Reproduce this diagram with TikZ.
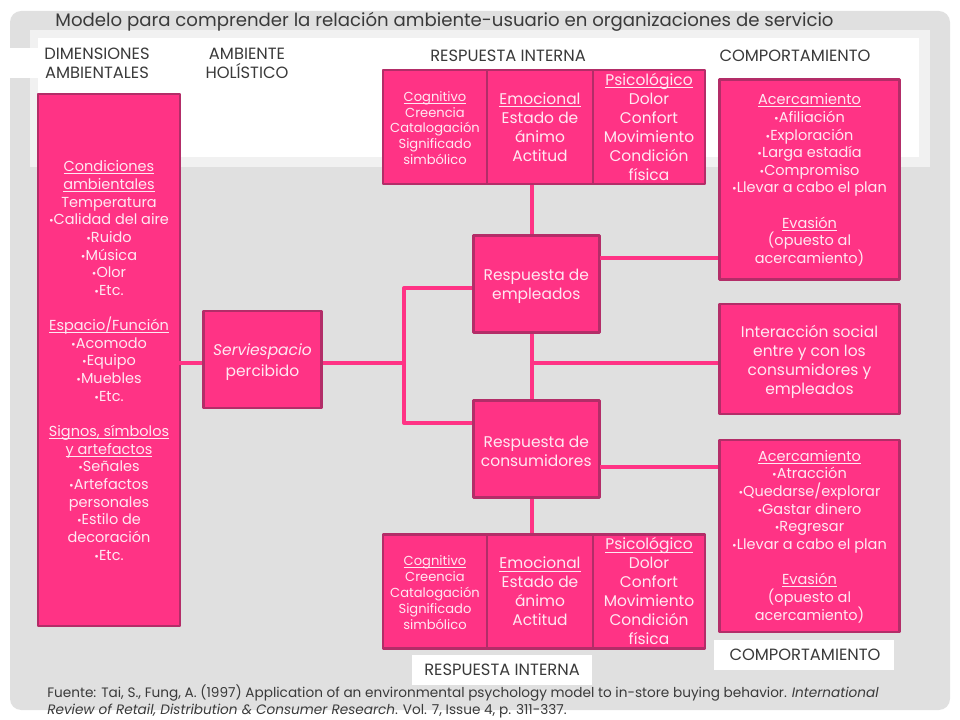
\documentclass[tikz,border=0pt]{standalone}
\usepackage{fontspec}
\setmainfont{Poppins}
\usepackage{tikz}

\definecolor{panelgray}{HTML}{E0E0E0}
\definecolor{bandgray}{HTML}{F1F1F1}
\definecolor{boxpink}{HTML}{FF3385}
\definecolor{boxedge}{HTML}{B32D68}
\definecolor{boxtext}{HTML}{FFE8F2}
\definecolor{inkgray}{HTML}{3A3A3A}

\newcommand{\bul}{{\footnotesize\textbullet}}
\newcommand{\under}[1]{\rule{0pt}{8.5pt}\underline{\smash{#1}}}
\normallineskiplimit=-6pt
\lineskiplimit=-6pt

\tikzset{
	pinkbox/.style={draw=boxedge, fill=boxpink, line width=1.9pt, line join=round, text=boxtext, align=center, inner sep=0pt},
	textsmall/.style={font=\fontsize{9.3pt}{11.3pt}\selectfont},
	textmid/.style={font=\fontsize{10.3pt}{12.55pt}\selectfont},
	textbig/.style={font=\fontsize{11pt}{13.5pt}\selectfont},
	header/.style={text=inkgray, align=center, inner sep=0pt, font=\fontsize{11.6pt}{13.5pt}\selectfont},
	link/.style={draw=boxpink, line width=2.4pt, line join=round},
}

\begin{document}
\begin{tikzpicture}[x=0.025cm, y=-0.025cm]

		\useasboundingbox (0, 0) rectangle (960, 720);
		
		% slide background
		\fill[white] (0, 0) rectangle (960, 720);
		\fill[panelgray, rounded corners=8pt] (10, 11) rectangle (950, 710);
		\fill[bandgray] (30, 30) rectangle (930, 167);
		\fill[white] (38, 38) rectangle (919, 157);
		\fill[white] (10, 48) rectangle (38, 78);
		\fill[white] (412, 655) rectangle (592, 685);
		\fill[white] (714, 640) rectangle (894, 670);
		
		% titles
		\node[text=inkgray, inner sep=0pt, font=\fontsize{12.9pt}{15pt}\selectfont] (title) at (444.5, 22) {Modelo para comprender la relación ambiente-usuario en organizaciones de servicio};
		\node[header] (dim) at (97, 63.5) {DIMENSIONES\\AMBIENTALES};
		\node[header] (hol) at (247, 63.5) {AMBIENTE\\HOLÍSTICO};
		\node[header] (intTop) at (508, 56) {RESPUESTA INTERNA};
		\node[header] (behTop) at (795, 56) {COMPORTAMIENTO};
		\node[header] (intBot) at (502, 670) {RESPUESTA INTERNA};
		\node[header] (behBot) at (805, 655) {COMPORTAMIENTO};
		
		% boxes
		\node[pinkbox, textmid, minimum width=3.55cm, minimum height=13.3cm] (env) at (109, 360) {\under{Condiciones}\\\under{ambientales}\\Temperatura\\\bul Calidad del aire\\\bul Ruido\\\bul Música\\\bul Olor\\\bul Etc.\\[12.55pt]\under{Espacio/Función}\\\bul Acomodo\\\bul Equipo\\\bul Muebles\\\bul Etc.\\[12.55pt]\under{Signos, símbolos}\\\under{y artefactos}\\\bul Señales\\\bul Artefactos\\personales\\\bul Estilo de\\decoración\\\bul Etc.};
		\node[pinkbox, textbig, minimum width=2.95cm, minimum height=2.43cm] (serv) at (262.5, 359.5) {\rule{0pt}{12pt}\textit{Serviespacio}\\[1pt]percibido};
		
		\node[pinkbox, textbig, minimum width=3.15cm, minimum height=2.43cm] (emp) at (536.3, 284) {\rule{0pt}{11.5pt}Respuesta de\\empleados};
		\node[pinkbox, textbig, minimum width=3.15cm, minimum height=2.43cm] (con) at (536.3, 449) {\rule{0pt}{11.5pt}Respuesta de\\consumidores};
		
		\node[pinkbox, textsmall, minimum width=2.6cm, minimum height=2.85cm] (cogTop) at (435, 127) {\under{Cognitivo}\\Creencia\\Catalogación\\Significado\\simbólico};
		\node[pinkbox, textbig, minimum width=2.65cm, minimum height=2.85cm] (emoTop) at (540, 127) {\under{Emocional}\\Estado de\\ánimo\\Actitud};
		\node[pinkbox, textbig, minimum width=2.8cm, minimum height=2.85cm] (psiTop) at (649, 127) {\under{Psicológico}\\Dolor\\Confort\\Movimiento\\Condición\\física};
		
		\node[pinkbox, textsmall, minimum width=2.6cm, minimum height=2.85cm] (cogBot) at (435, 591.5) {\under{Cognitivo}\\Creencia\\Catalogación\\Significado\\simbólico};
		\node[pinkbox, textbig, minimum width=2.65cm, minimum height=2.85cm] (emoBot) at (540, 591.5) {\under{Emocional}\\Estado de\\ánimo\\Actitud};
		\node[pinkbox, textbig, minimum width=2.8cm, minimum height=2.85cm] (psiBot) at (649, 591.5) {\under{Psicológico}\\Dolor\\Confort\\Movimiento\\Condición\\física};
		
		\node[pinkbox, textmid, minimum width=4.5cm, minimum height=5cm] (behA) at (809.5, 179.5) {\under{Acercamiento}\\\bul Afiliación\\\bul Exploración\\\bul Larga estadía\\\bul Compromiso\\\bul Llevar a cabo  el plan\\[12.55pt]\under{Evasión}\\(opuesto al\\acercamiento)};
		\node[pinkbox, textbig, minimum width=4.5cm, minimum height=2.75cm] (behB) at (809.5, 359) {\rule{0pt}{13pt}Interacción social\\entre y con los\\consumidores y\\empleados};
		\node[pinkbox, textmid, minimum width=4.5cm, minimum height=4.8cm] (behC) at (809.5, 536) {\under{Acercamiento}\\\bul Atracción\\\bul Quedarse/explorar\\\bul Gastar dinero\\\bul Regresar\\\bul Llevar a cabo el plan\\[12.55pt]\under{Evasión}\\(opuesto al\\acercamiento)};
		
		% connectors
		\coordinate (envOut) at (176, 363);
		\coordinate (fork) at (404, 363);
		\coordinate (forkUp) at (404, 288);
		\coordinate (forkDown) at (404, 423);
		\coordinate (spine) at (532, 363);
		\coordinate (empOut) at (600, 258);
		\coordinate (conOut) at (600, 467);
		
		\draw[link] (envOut) -- (serv.west |- envOut);
		\draw[link] (serv.east |- fork) -- (fork);
		\draw[link] (emp.west |- forkUp) -- (forkUp) -- (forkDown) -- (con.west |- forkDown);
		\draw[link] (emoTop.south -| spine) -- (emp.north -| spine);
		\draw[link] (emp.south -| spine) -- (con.north -| spine);
		\draw[link] (con.south -| spine) -- (emoBot.north -| spine);
		\draw[link] (spine) -- (behB.west |- spine);
		\draw[link] (empOut) -- (behA.west |- empOut);
		\draw[link] (conOut) -- (behC.west |- conOut);
		
		% source
		\node[anchor=north west, text=inkgray, inner sep=0pt, align=left, font=\fontsize{9.7pt}{12.2pt}\selectfont] (source) at (47, 684) {Fuente: Tai, S., Fung, A. (1997) Application of an environmental psychology model to in-store buying behavior. \textit{International}\\\textit{Review of Retail, Distribution \& Consumer Research}. Vol. 7, Issue 4, p. 311-337.};
		
	\end{tikzpicture}
\end{document}
